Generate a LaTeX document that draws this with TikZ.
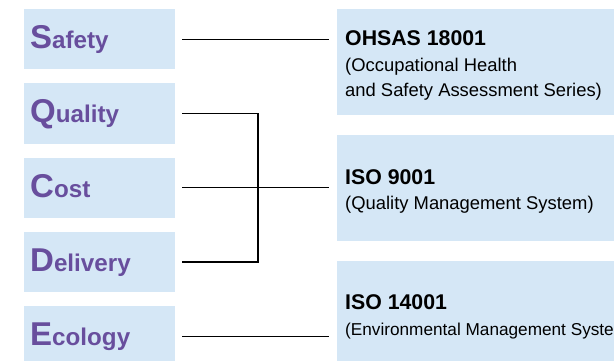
\documentclass[tikz,border=0pt]{standalone}
\usepackage{fontspec}
\setmainfont{Liberation Sans}
\usetikzlibrary{calc}
\definecolor{boxblue}{RGB}{213,231,246}
\definecolor{lblpurple}{RGB}{104,78,157}
\tikzset{
  leftbox/.style={rectangle, fill=boxblue, draw=none, minimum width=151pt, minimum height=60.5pt, inner sep=0pt, outer sep=0pt, anchor=north west},
  rightbox/.style={rectangle, fill=boxblue, draw=none, minimum width=290pt, minimum height=106pt, inner sep=0pt, outer sep=0pt, anchor=north west},
  lbl/.style={anchor=base west, inner sep=0pt, text=lblpurple, font=\bfseries},
  ttl/.style={anchor=base west, inner sep=0pt, font=\fontsize{21.3}{21.3}\bfseries\selectfont},
  dsc/.style={anchor=base west, inner sep=0pt, font=\fontsize{18.4}{18.4}\selectfont},
  dscs/.style={anchor=base west, inner sep=0pt, font=\fontsize{17.2}{17.2}\selectfont},
  conn/.style={draw=black, line width=1.1pt}
}
\newcommand{\biglbl}[2]{{\fontsize{33}{33}\selectfont #1}{\fontsize{24.2}{24.2}\selectfont #2}}
\begin{document}
\begin{tikzpicture}[x=1pt,y=-1pt]
\useasboundingbox (0,0) rectangle (614,361);
\clip (0,0) rectangle (614,361);
% left boxes
\node[leftbox] (s) at (24,9) {};
\node[leftbox] (q) at (24,83.25) {};
\node[leftbox] (c) at (24,157.5) {};
\node[leftbox] (d) at (24,231.75) {};
\node[leftbox] (e) at (24,306) {};
\node[lbl] (sl) at ($(s.north west)+(6,39.5)$) {\biglbl{S}{afety}};
\node[lbl] (ql) at ($(q.north west)+(6,39.5)$) {\biglbl{Q}{uality}};
\node[lbl] (cl) at ($(c.north west)+(6,39.5)$) {\biglbl{C}{ost}};
\node[lbl] (dl) at ($(d.north west)+(6,39.5)$) {\biglbl{D}{elivery}};
\node[lbl] (el) at ($(e.north west)+(6,39.5)$) {\biglbl{E}{cology}};
% right boxes
\node[rightbox] (o) at (337,9) {};
\node[rightbox] (i9) at (337,135) {};
\node[rightbox] (i14) at (337,261) {};
\node[ttl] (ot) at ($(o.north west)+(8,36.5)$) {OHSAS 18001};
\node[dsc] (od1) at ($(ot.base west)+(0,25.8)$) {(Occupational Health};
\node[dsc] (od2) at ($(od1.base west)+(0,25)$) {and Safety Assessment Series)};
\node[ttl] (it) at ($(i9.north west)+(8,49)$) {ISO 9001};
\node[dsc] (id) at ($(it.base west)+(0,25.5)$) {(Quality Management System)};
\node[ttl] (jt) at ($(i14.north west)+(8,48.5)$) {ISO 14001};
\node[dscs] (jd) at ($(jt.base west)+(0,26)$) {(Environmental Management System)};
% connectors
\coordinate (j) at (258,0);
\draw[conn] ([xshift=7pt]s.east) -- ([xshift=-8pt]s.east -| o.west);
\draw[conn] ([xshift=7pt]c.east) -- ([xshift=-8pt]c.east -| i9.west);
\draw[conn] ([xshift=7pt]e.east) -- ([xshift=-8pt]e.east -| i14.west);
\draw[conn] ([xshift=7pt]q.east) -- (q.east -| j) -- (d.east -| j) -- ([xshift=7pt]d.east);
\end{tikzpicture}
\end{document}
